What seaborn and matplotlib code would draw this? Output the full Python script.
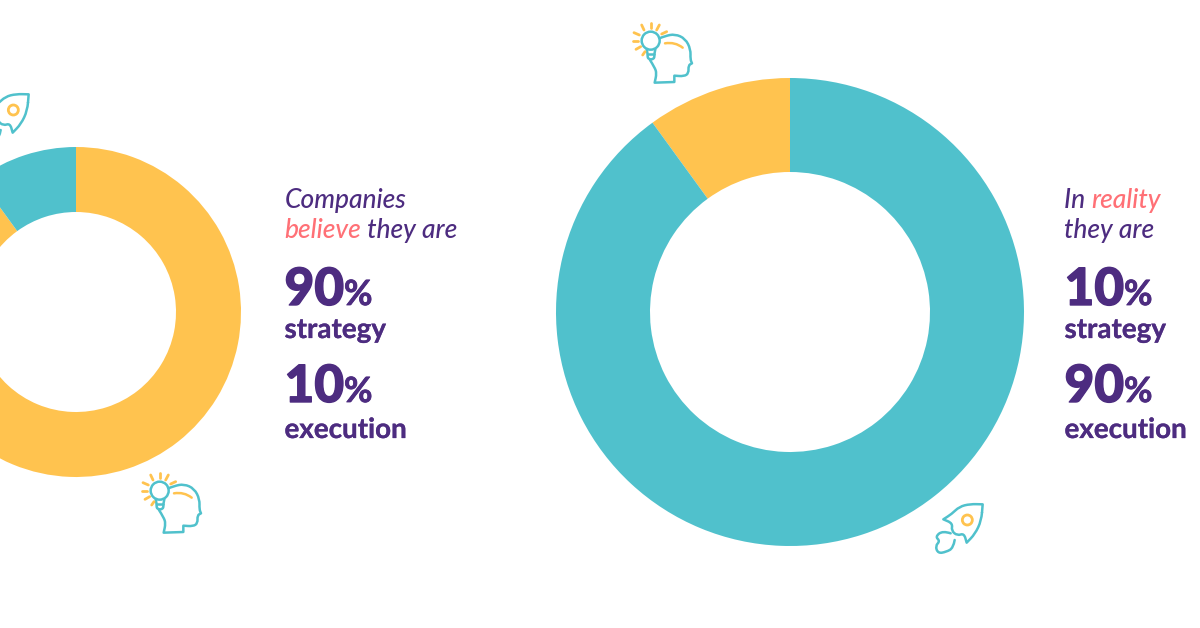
import numpy as np
import matplotlib
matplotlib.use("Agg")
import matplotlib.pyplot as plt
import matplotlib.patheffects as pe
from matplotlib.path import Path
from matplotlib.patches import PathPatch, Circle
import seaborn as sns

# Survey shares, in percent
components = ["strategy", "execution"]
believed_share = [90, 10]
actual_share = [10, 90]

TEAL = "#50C1CC"
YELLOW = "#FFC34F"
PURPLE = "#4D2C80"
CORAL = "#FF7076"

sns.set_theme(style="white")
plt.rcParams["font.family"] = ["Lato", "DejaVu Sans"]
palette = sns.color_palette([YELLOW, TEAL])

W, H = 1200, 628
fig = plt.figure(figsize=(W / 100, H / 100), dpi=100, facecolor="white")


def donut(cx, cy, outer, inner, shares, clockwise):
    """Ring whose strategy slice starts at twelve o'clock."""
    ax = fig.add_axes([(cx - outer) / W, 1 - (cy + outer) / H, 2 * outer / W, 2 * outer / H])
    ax.pie(shares, colors=palette, startangle=90, counterclock=not clockwise, radius=1,
           wedgeprops=dict(width=1 - inner / outer, linewidth=0))
    ax.set_xlim(-1, 1)
    ax.set_ylim(-1, 1)
    ax.set_axis_off()
    return ax


donut(76, 312, 165, 100, believed_share, clockwise=True)
donut(790, 312, 234, 140, actual_share, clockwise=False)

# Overlay in pixel coordinates for captions and pictograms
over = fig.add_axes([0, 0, 1, 1], zorder=5)
over.set_xlim(0, W)
over.set_ylim(H, 0)
over.set_axis_off()
over.patch.set_alpha(0)


def spline(points, closed=False):
    pts = np.asarray(points, float)
    if closed:
        start = (pts[-1] + pts[0]) / 2
        verts, codes = [start], [Path.MOVETO]
        for i, p in enumerate(pts):
            nxt = pts[(i + 1) % len(pts)]
            verts += [p, (p + nxt) / 2]
            codes += [Path.CURVE3, Path.CURVE3]
    else:
        verts, codes = [pts[0]], [Path.MOVETO]
        for i in range(1, len(pts) - 1):
            end = pts[i + 1] if i == len(pts) - 2 else (pts[i] + pts[i + 1]) / 2
            verts += [pts[i], end]
            codes += [Path.CURVE3, Path.CURVE3]
    return Path(np.array(verts), codes)


def stroke(points, ox, oy, color, scale, lw=1.8, closed=False):
    pts = np.asarray(points, float) * scale + [ox, oy]
    path = Path(pts) if len(pts) == 2 else spline(pts, closed)
    over.add_patch(PathPatch(path, fill=False, edgecolor=color, lw=lw,
                             capstyle="round", joinstyle="round"))


HEAD = [(118, 85), (135, 78), (165, 72), (196, 86), (212, 118), (211, 148), (216, 160), (216, 160),
        (205, 166), (206, 190), (192, 199), (163, 197), (163, 197), (163, 216), (163, 216),
        (104, 218), (104, 218), (110, 190), (104, 172), (90, 150)]
RAYS = [[(92, 38), (92, 55)], [(65, 45), (72, 60)], [(118, 45), (110, 60)],
        [(42, 68), (58, 75)], [(125, 72), (140, 65)], [(40, 92), (55, 92)],
        [(48, 118), (62, 110)], [(68, 135), (75, 125)]]


def head_icon(ox, oy):
    s = 1 / 3
    stroke(HEAD, ox, oy, TEAL, s)
    over.add_patch(Circle((ox + 92 * s, oy + 92 * s), 27 * s, fill=False, ec=TEAL, lw=1.8))
    stroke([(80, 118), (83, 130), (83, 148), (103, 148), (103, 130), (106, 118)], ox, oy, TEAL, s)
    stroke([(85, 132), (101, 132)], ox, oy, TEAL, s)
    stroke([(135, 100), (165, 95), (188, 113)], ox, oy, YELLOW, s)
    for ray in RAYS:
        stroke(ray, ox, oy, YELLOW, s, lw=2.0)


ROCKET = [(188, 43), (188, 43), (150, 42), (118, 50), (95, 72), (70, 88), (70, 88),
          (98, 100), (94, 122), (112, 137), (132, 130), (140, 158), (140, 158),
          (165, 132), (184, 92)]
FLAME = [(92, 130), (68, 122), (46, 140), (60, 153), (46, 168), (54, 190), (78, 186),
         (100, 174), (104, 150)]


def rocket_icon(ox, oy):
    s = 1 / 3
    stroke(ROCKET, ox, oy, TEAL, s, closed=True)
    stroke(FLAME, ox, oy, TEAL, s)
    over.add_patch(Circle((ox + 142 * s, oy + 90 * s), 15 * s, fill=False, ec=YELLOW, lw=2.0))


head_icon(620, 10)
head_icon(129, 460)
rocket_icon(920, 490)
rocket_icon(-34, 80)


def run(x, y, pieces):
    """Write text pieces one after another along a shared baseline."""
    renderer = fig.canvas.get_renderer()
    for string, color, size, weight, style, thicken in pieces:
        t = over.text(x, y, string, color=color, fontsize=size, fontweight=weight,
                      fontstyle=style, va="baseline", ha="left",
                      family=["Lato", "DejaVu Sans"])
        x += t.get_window_extent(renderer).width
        if thicken:
            t.set_path_effects([pe.withStroke(linewidth=thicken, foreground=color)])


def caption(x, head_lines, shares):
    for y, line in zip((208, 238), head_lines):
        run(x, y, [(s, c, 19, "medium", "italic", 0) for s, c in line])
    for share, name, yb, yw in zip(shares, components, (305, 402), (338, 438)):
        run(x, yb, [(f"{share}", PURPLE, 37, "black", "normal", 1.0),
                    ("%", PURPLE, 25, "bold", "normal", 0.6)])
        run(x, yw, [(name, PURPLE, 20, "bold", "normal", 0.2)])


caption(284.5, [[("Companies", PURPLE)], [("believe", CORAL), (" they are", PURPLE)]], believed_share)
caption(1064.5, [[("In ", PURPLE), ("reality", CORAL)], [("they are", PURPLE)]], actual_share)

fig.savefig("out.png", dpi=100, facecolor="white")
